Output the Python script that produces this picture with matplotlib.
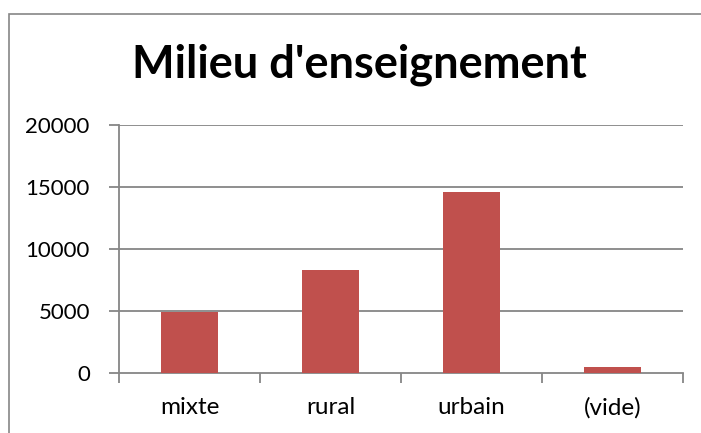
import matplotlib
matplotlib.use("Agg")
import matplotlib.pyplot as plt
from matplotlib.patches import Rectangle
import numpy as np

categories = ["mixte", "rural", "urbain", "(vide)"]
values = [4950, 8270, 14630, 460]
yticks = [0, 5000, 10000, 15000, 20000]
title = "Milieu d'enseignement"

W, H = 701, 433
fig = plt.figure(figsize=(W / 100, H / 100), dpi=100)
fig.patch.set_facecolor("white")

# outer chart border
fig.add_artist(Rectangle((9 / W, -0.1), 1.2, (H - 14) / H + 0.1, transform=fig.transFigure,
                         fill=False, edgecolor="#868686", linewidth=1.2))

L, R, T, B = 119, 683, 125, 373
ax = fig.add_axes([L / W, 1 - B / H, (R - L) / W, (B - T) / H])
grid_c = "#868686"
x = np.arange(len(categories))
ax.bar(x, values, width=0.4, color="#C0504D", zorder=3)
ax.set_xlim(-0.5, len(categories) - 0.5)
ax.set_ylim(0, 20000)
ax.set_yticks(yticks)
ax.set_yticklabels([str(v) for v in yticks], fontsize=16, family="Lato")
for v in yticks[1:]:
    ax.axhline(v, color=grid_c, linewidth=1.3, zorder=1)
ax.set_xticks(np.arange(-0.5, len(categories), 1.0))
ax.set_xticklabels([])
ax.set_xticks(x, minor=True)
ax.set_xticklabels(categories, minor=True, fontsize=17.5, family="Lato")
ax.tick_params(axis="x", which="minor", length=0, pad=17)
ax.tick_params(axis="x", which="major", length=7, width=1.3, color=grid_c, direction="out")
ax.tick_params(axis="y", length=7, width=1.3, color=grid_c, direction="out", pad=14)
for s in ["top", "right"]:
    ax.spines[s].set_visible(False)
for s in ["left", "bottom"]:
    ax.spines[s].set_color(grid_c)
    ax.spines[s].set_linewidth(1.3)

fig.text(359 / W, 1 - 77 / H, title, ha="center", va="baseline", fontsize=32.5,
         fontweight="bold", family="Lato")

fig.savefig("out.png", dpi=100)
